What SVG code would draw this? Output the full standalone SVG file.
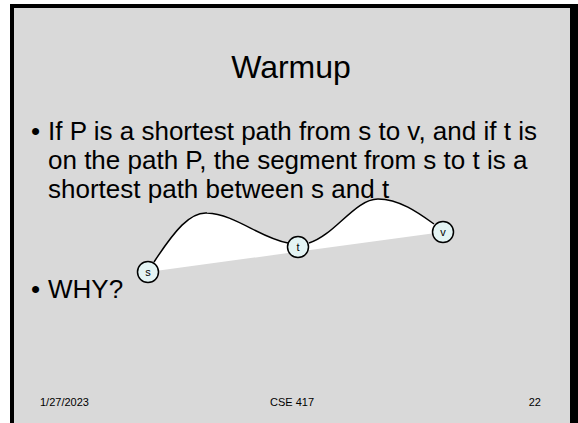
<svg xmlns="http://www.w3.org/2000/svg" width="578" height="423" viewBox="0 0 578 423">
<style>
.t{font-family:"Liberation Sans",Arial,sans-serif;fill:#000}
.body{font-size:26px}
.foot{font-size:11px}
.node circle{fill:#e4f4f4;stroke:#000;stroke-width:1.5}
.node text{font-family:"Liberation Sans",Arial,sans-serif;font-size:11px;text-anchor:middle;fill:#000}
</style>
<rect x="0" y="0" width="578" height="423" fill="#fff"/>
<rect x="10" y="4" width="570" height="430" fill="#000"/>
<rect x="14" y="8" width="556" height="420" fill="#d9d9d9"/>
<text class="t" x="291" y="78" font-size="32" text-anchor="middle">Warmup</text>
<g id="body">
<text class="t body" x="31" y="140">•</text>
<text class="t body" x="48" y="140">If P is a shortest path from s to v, and if t is</text>
<text class="t body" x="48" y="169">on the path P, the segment from s to t is a</text>
<text class="t body" x="48" y="198">shortest path between s and t</text>
<text class="t body" x="31" y="298">•</text>
<text class="t body" x="48" y="298">WHY?</text>
</g>
<g id="connectors">
<path d="M148,272 L154,262 C175,230 190,212 207,213 C235,214 260,238 288,243 L298,247 L309,243 C335,235 355,199 378,199 C400,199 420,214 434,224 L443,232 Z" fill="#fff" stroke="none"/>
<path d="M154,262 C175,230 190,212 207,213 C235,214 260,238 288,243" fill="none" stroke="#000" stroke-width="1.5"/>
<path d="M309,243 C335,235 355,199 378,199 C400,199 420,214 434,224" fill="none" stroke="#000" stroke-width="1.5"/>
</g>
<g id="node-s" class="node"><circle cx="148" cy="272" r="10.5"/><text x="148" y="276">s</text></g>
<g id="node-t" class="node"><circle cx="298" cy="247" r="10.5"/><text x="298" y="251">t</text></g>
<g id="node-v" class="node"><circle cx="443" cy="232" r="10.5"/><text x="443" y="236">v</text></g>
<g id="footer">
<text class="t foot" x="40" y="406">1/27/2023</text>
<text class="t foot" x="292" y="406" text-anchor="middle">CSE 417</text>
<text class="t foot" x="541" y="406" text-anchor="end">22</text>
</g>
</svg>
